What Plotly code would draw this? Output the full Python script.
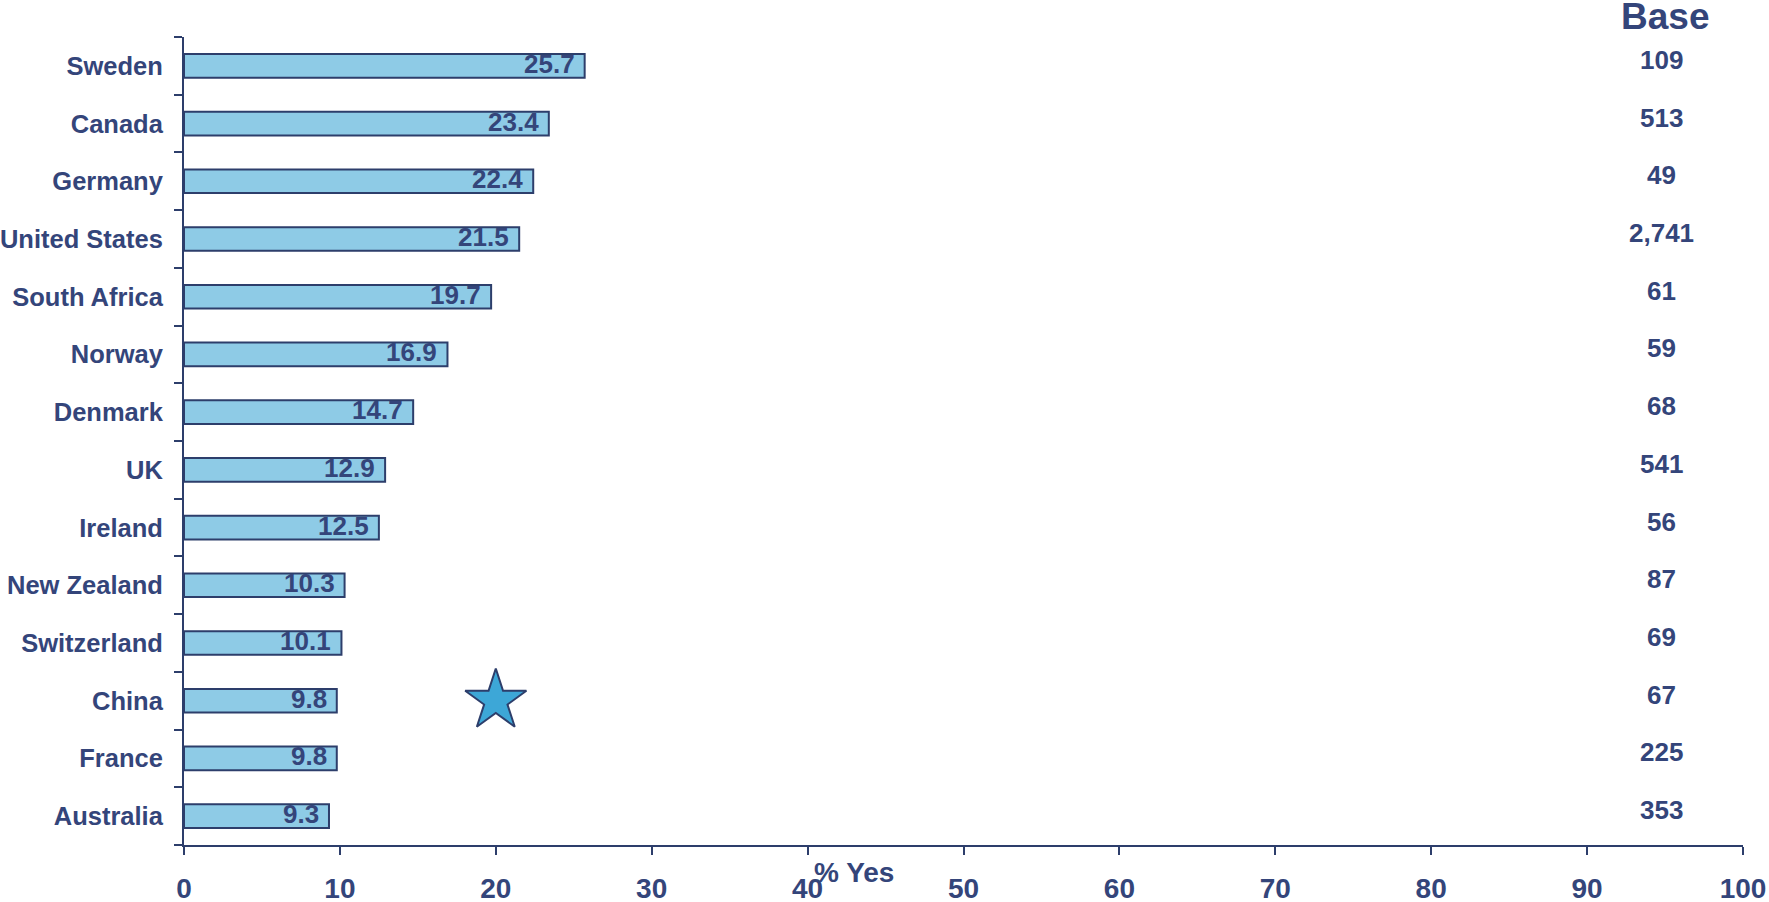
import plotly.graph_objects as go

countries = ["Sweden", "Canada", "Germany", "United States", "South Africa", "Norway",
             "Denmark", "UK", "Ireland", "New Zealand", "Switzerland", "China", "France", "Australia"]
pct_yes = [25.7, 23.4, 22.4, 21.5, 19.7, 16.9, 14.7, 12.9, 12.5, 10.3, 10.1, 9.8, 9.8, 9.3]
base = ["109", "513", "49", "2,741", "61", "59", "68", "541", "56", "87", "69", "67", "225", "353"]
x_ticks = [0, 10, 20, 30, 40, 50, 60, 70, 80, 90, 100]
star_country = "China"
star_value = 20

NAVY = "#34457A"
LINE = "#2D3E6B"
FONT = "Liberation Sans, Arial, sans-serif"

fig = go.Figure()
fig.add_trace(go.Bar(
    x=pct_yes, y=countries, orientation="h",
    marker=dict(color="#8ECBE6", line=dict(color=LINE, width=2)),
    width=0.41, hoverinfo="skip", showlegend=False,
))
fig.add_trace(go.Scatter(
    x=[star_value], y=[star_country], mode="markers",
    marker=dict(symbol="star", size=46, color="#3DA7D7", line=dict(color=LINE, width=2)),
    showlegend=False, hoverinfo="skip",
))

for c, v in zip(countries, pct_yes):
    fig.add_annotation(x=v, xref="x", y=c, yref="y", xanchor="right", xshift=-8, yshift=2,
                       text=f"{v:.1f}", showarrow=False,
                       font=dict(family=FONT, size=26, color=NAVY, weight="bold"))

for c, b in zip(countries, base):
    fig.add_annotation(x=0.948, xref="paper", xanchor="center", y=c, yref="y", yshift=6, text=b,
                       showarrow=False, font=dict(family=FONT, size=26, color=NAVY, weight="bold"))
fig.add_annotation(x=0.950, xref="paper", xanchor="center", y=1.0, yref="paper",
                   yanchor="middle", yshift=21,
                   text="Base", showarrow=False,
                   font=dict(family=FONT, size=37, color=NAVY, weight="bold"))
fig.add_annotation(x=0.43, xref="paper", xanchor="center", y=0, yref="paper",
                   yanchor="middle", yshift=-27,
                   text="% Yes", showarrow=False,
                   font=dict(family=FONT, size=28, color=NAVY, weight="bold"))

fig.update_layout(
    width=1769, height=902,
    margin=dict(l=184, r=26, t=37, b=57),
    plot_bgcolor="white", paper_bgcolor="white",
    font=dict(family=FONT, color=NAVY),
    xaxis=dict(range=[0, 100], tickvals=x_ticks, showgrid=False, zeroline=False,
               automargin=False,
               showline=True, linecolor=LINE, linewidth=2, ticks="outside", ticklen=8,
               tickcolor=LINE, tickwidth=2,
               tickfont=dict(family=FONT, size=28, color=NAVY, weight="bold"),
               ticklabelstandoff=9),
    yaxis=dict(categoryorder="array", categoryarray=countries[::-1], autorange=False,
               range=[-0.5, len(countries) - 0.5], automargin=False,
               showgrid=False, zeroline=False, showline=True, linecolor=LINE, linewidth=2,
               ticks="outside", tickson="boundaries", ticklen=8, tickcolor=LINE, tickwidth=2,
               tickfont=dict(family=FONT, size=25.5, color=NAVY, weight="bold"),
               ticklabelstandoff=14),
)

fig.write_html("out.html", config={"displayModeBar": False},
               post_script="document.body.style.margin='0';")
